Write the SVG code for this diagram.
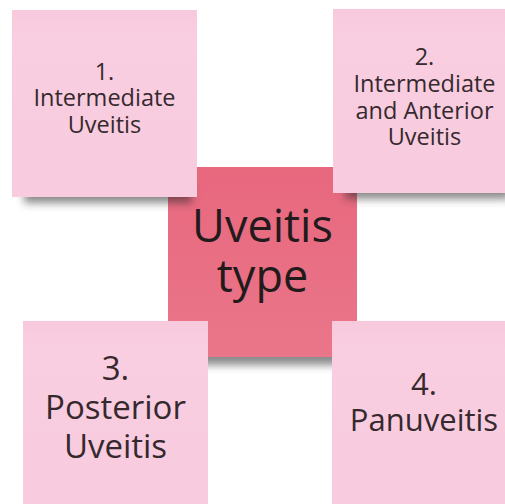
<svg xmlns="http://www.w3.org/2000/svg" width="505" height="504" viewBox="0 0 505 504">
<defs>
<filter id="sh" x="-20%" y="-50%" width="140%" height="200%"><feGaussianBlur stdDeviation="4"/></filter>
<linearGradient id="pink" x1="0" y1="0" x2="0" y2="1">
<stop offset="0" stop-color="#f8c9dc"/><stop offset="0.15" stop-color="#f9cee0"/><stop offset="1" stop-color="#f8cbde"/>
</linearGradient>
<linearGradient id="red" x1="0" y1="0" x2="0" y2="1">
<stop offset="0" stop-color="#e8687e"/><stop offset="1" stop-color="#ea7689"/>
</linearGradient>
</defs>
<style>
.note{fill:url(#pink)}
.center{fill:url(#red)}
.shadow{fill:#2a2a2a;opacity:0.55;filter:url(#sh)}
text{font-family:"Open Sans","Noto Sans","Liberation Sans",sans-serif;text-anchor:middle;fill:#35292e}
.t1{font-size:23.5px}
.t3{font-size:33px}
.t4{font-size:31px}
.tc{font-size:45px;fill:#231a1c}
</style>
<rect width="505" height="504" fill="#ffffff"/>
<g id="connectors"/>
<g id="center-node">
<rect class="shadow" x="178" y="345" width="170" height="20"/>
<rect class="center" x="168" y="167" width="189" height="190"/>
<text class="tc"><tspan x="262.5" y="241.5">Uveitis</tspan><tspan x="262.5" y="291.5">type</tspan></text>
</g>
<g id="node1">
<rect class="shadow" x="24" y="185" width="168" height="18"/>
<rect class="note" x="12" y="10" width="185" height="187"/>
<text class="t1"><tspan x="104.5" y="80">1.</tspan><tspan x="104.5" y="106">Intermediate</tspan><tspan x="104.5" y="133">Uveitis</tspan></text>
</g>
<g id="node2">
<rect class="shadow" x="345" y="181" width="165" height="18"/>
<rect class="note" x="333" y="9" width="183" height="184"/>
<text class="t1"><tspan x="424.5" y="65">2.</tspan><tspan x="424.5" y="92">Intermediate</tspan><tspan x="424.5" y="118.5">and Anterior</tspan><tspan x="424.5" y="145">Uveitis</tspan></text>
</g>
<g id="node3">
<rect class="note" x="23" y="321" width="185" height="190"/>
<text class="t3"><tspan x="115.5" y="379.5">3.</tspan><tspan x="115.5" y="418.5">Posterior</tspan><tspan x="115.5" y="457.5">Uveitis</tspan></text>
</g>
<g id="node4">
<rect class="note" x="332" y="321" width="185" height="190"/>
<text class="t4"><tspan x="424" y="395">4.</tspan><tspan x="424" y="431">Panuveitis</tspan></text>
</g>
</svg>
